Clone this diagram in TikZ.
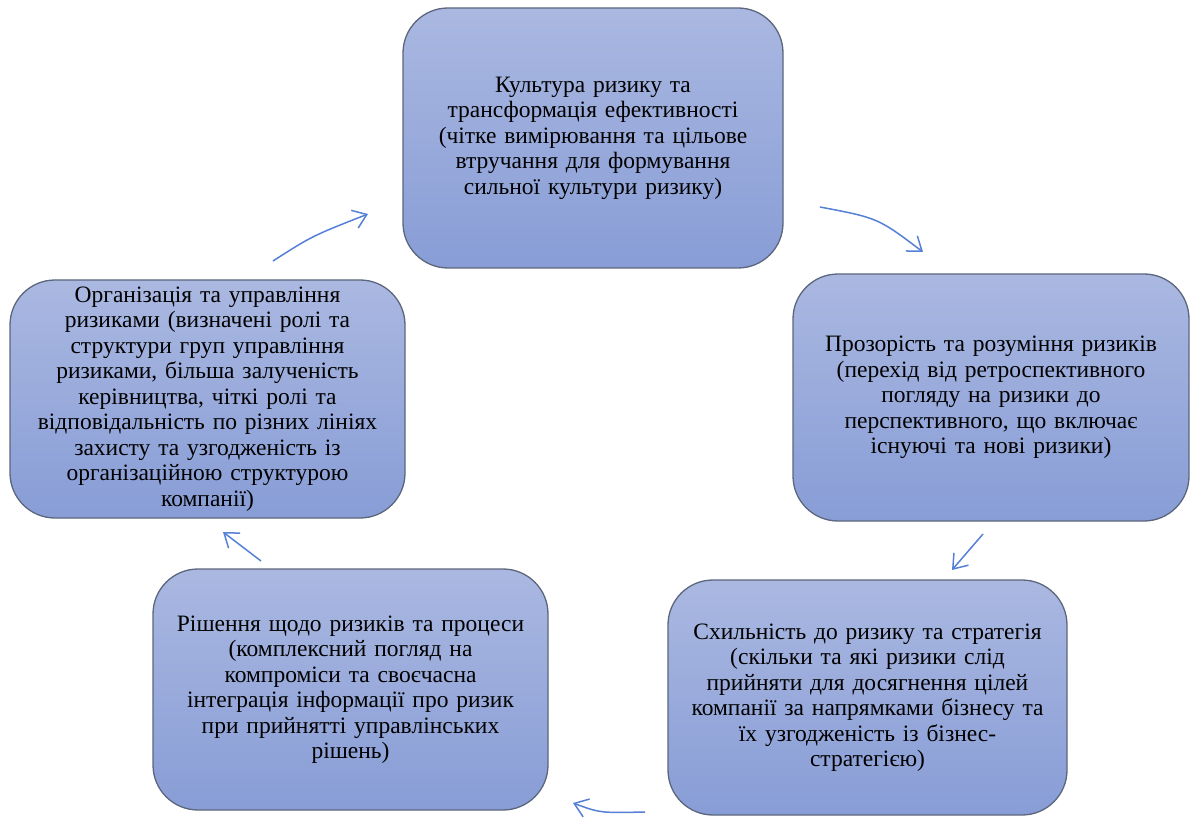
\documentclass[tikz,border=0pt]{standalone}
\usepackage{fontspec}
\setmainfont{Liberation Serif}
\usetikzlibrary{arrows.meta}
\definecolor{boxtop}{RGB}{170,184,225}
\definecolor{boxbot}{RGB}{136,157,214}
\definecolor{boxline}{RGB}{92,102,124}
\definecolor{arrowc}{RGB}{86,128,214}
\tikzset{
  stage/.style={rectangle, rounded corners=45pt, draw=boxline, line width=1.3pt,
    top color=boxtop, bottom color=boxbot, inner sep=0pt, align=center,
    font=\fontsize{23.5}{25.5}\selectfont, text=black},
  flow/.style={draw=arrowc, line width=1.5pt, -{Straight Barb[length=13pt,width=19pt,line width=1.5pt]}}
}
\begin{document}
\begin{tikzpicture}[x=1pt,y=-1pt]
\useasboundingbox (0,0) rectangle (1194,818);
\node[stage, minimum width=380pt, minimum height=260pt, text width=376pt] (top) at (593,138)
  {Культура ризику та\\трансформація ефективності\\(чітке вимірювання та цільове\\втручання для формування\\сильної культури ризику)};
\node[stage, minimum width=396pt, minimum height=247pt, text width=392pt] (right) at (991,397.5)
  {Прозорість та розуміння ризиків\\(перехід від ретроспективного\\погляду на ризики до\\перспективного, що включає\\існуючі та нові ризики)};
\node[stage, minimum width=399pt, minimum height=235pt, text width=395pt] (bright) at (867.5,697.5)
  {Схильність до ризику та стратегія\\(скільки та які ризики слід\\прийняти для досягнення цілей\\компанії за напрямками бізнесу та\\їх узгодженість із бізнес-\\стратегією)};
\node[stage, minimum width=395pt, minimum height=241pt, text width=391pt] (bleft) at (350.5,689.5)
  {Рішення щодо ризиків та процеси\\(комплексний погляд на\\компроміси та своєчасна\\інтеграція інформації про ризик\\при прийнятті управлінських\\рішень)};
\node[stage, minimum width=395pt, minimum height=238pt, text width=391pt] (left) at (207.5,399)
  {Організація та управління\\ризиками (визначені ролі та\\структури груп управління\\ризиками, більша залученість\\керівництва, чіткі ролі та\\відповідальність по різних лініях\\захисту та узгодженість із\\організаційною структурою\\компанії)};
\coordinate (a1s) at (273,261); \coordinate (a1e) at (368,214);
\coordinate (a2s) at (820,207); \coordinate (a2e) at (923,252);
\coordinate (a3s) at (983,534); \coordinate (a3e) at (952,570);
\coordinate (a4s) at (645,812); \coordinate (a4e) at (573,803);
\coordinate (a5s) at (261,561); \coordinate (a5e) at (223,532);
\draw[flow] (a1s) .. controls (312,236) .. (a1e);
\draw[flow] (a2s) .. controls (878,218) .. (a2e);
\draw[flow] (a3s) .. controls (968,551) .. (a3e);
\draw[flow] (a4s) .. controls (600,813) .. (a4e);
\draw[flow] (a5s) -- (a5e);
\end{tikzpicture}
\end{document}
